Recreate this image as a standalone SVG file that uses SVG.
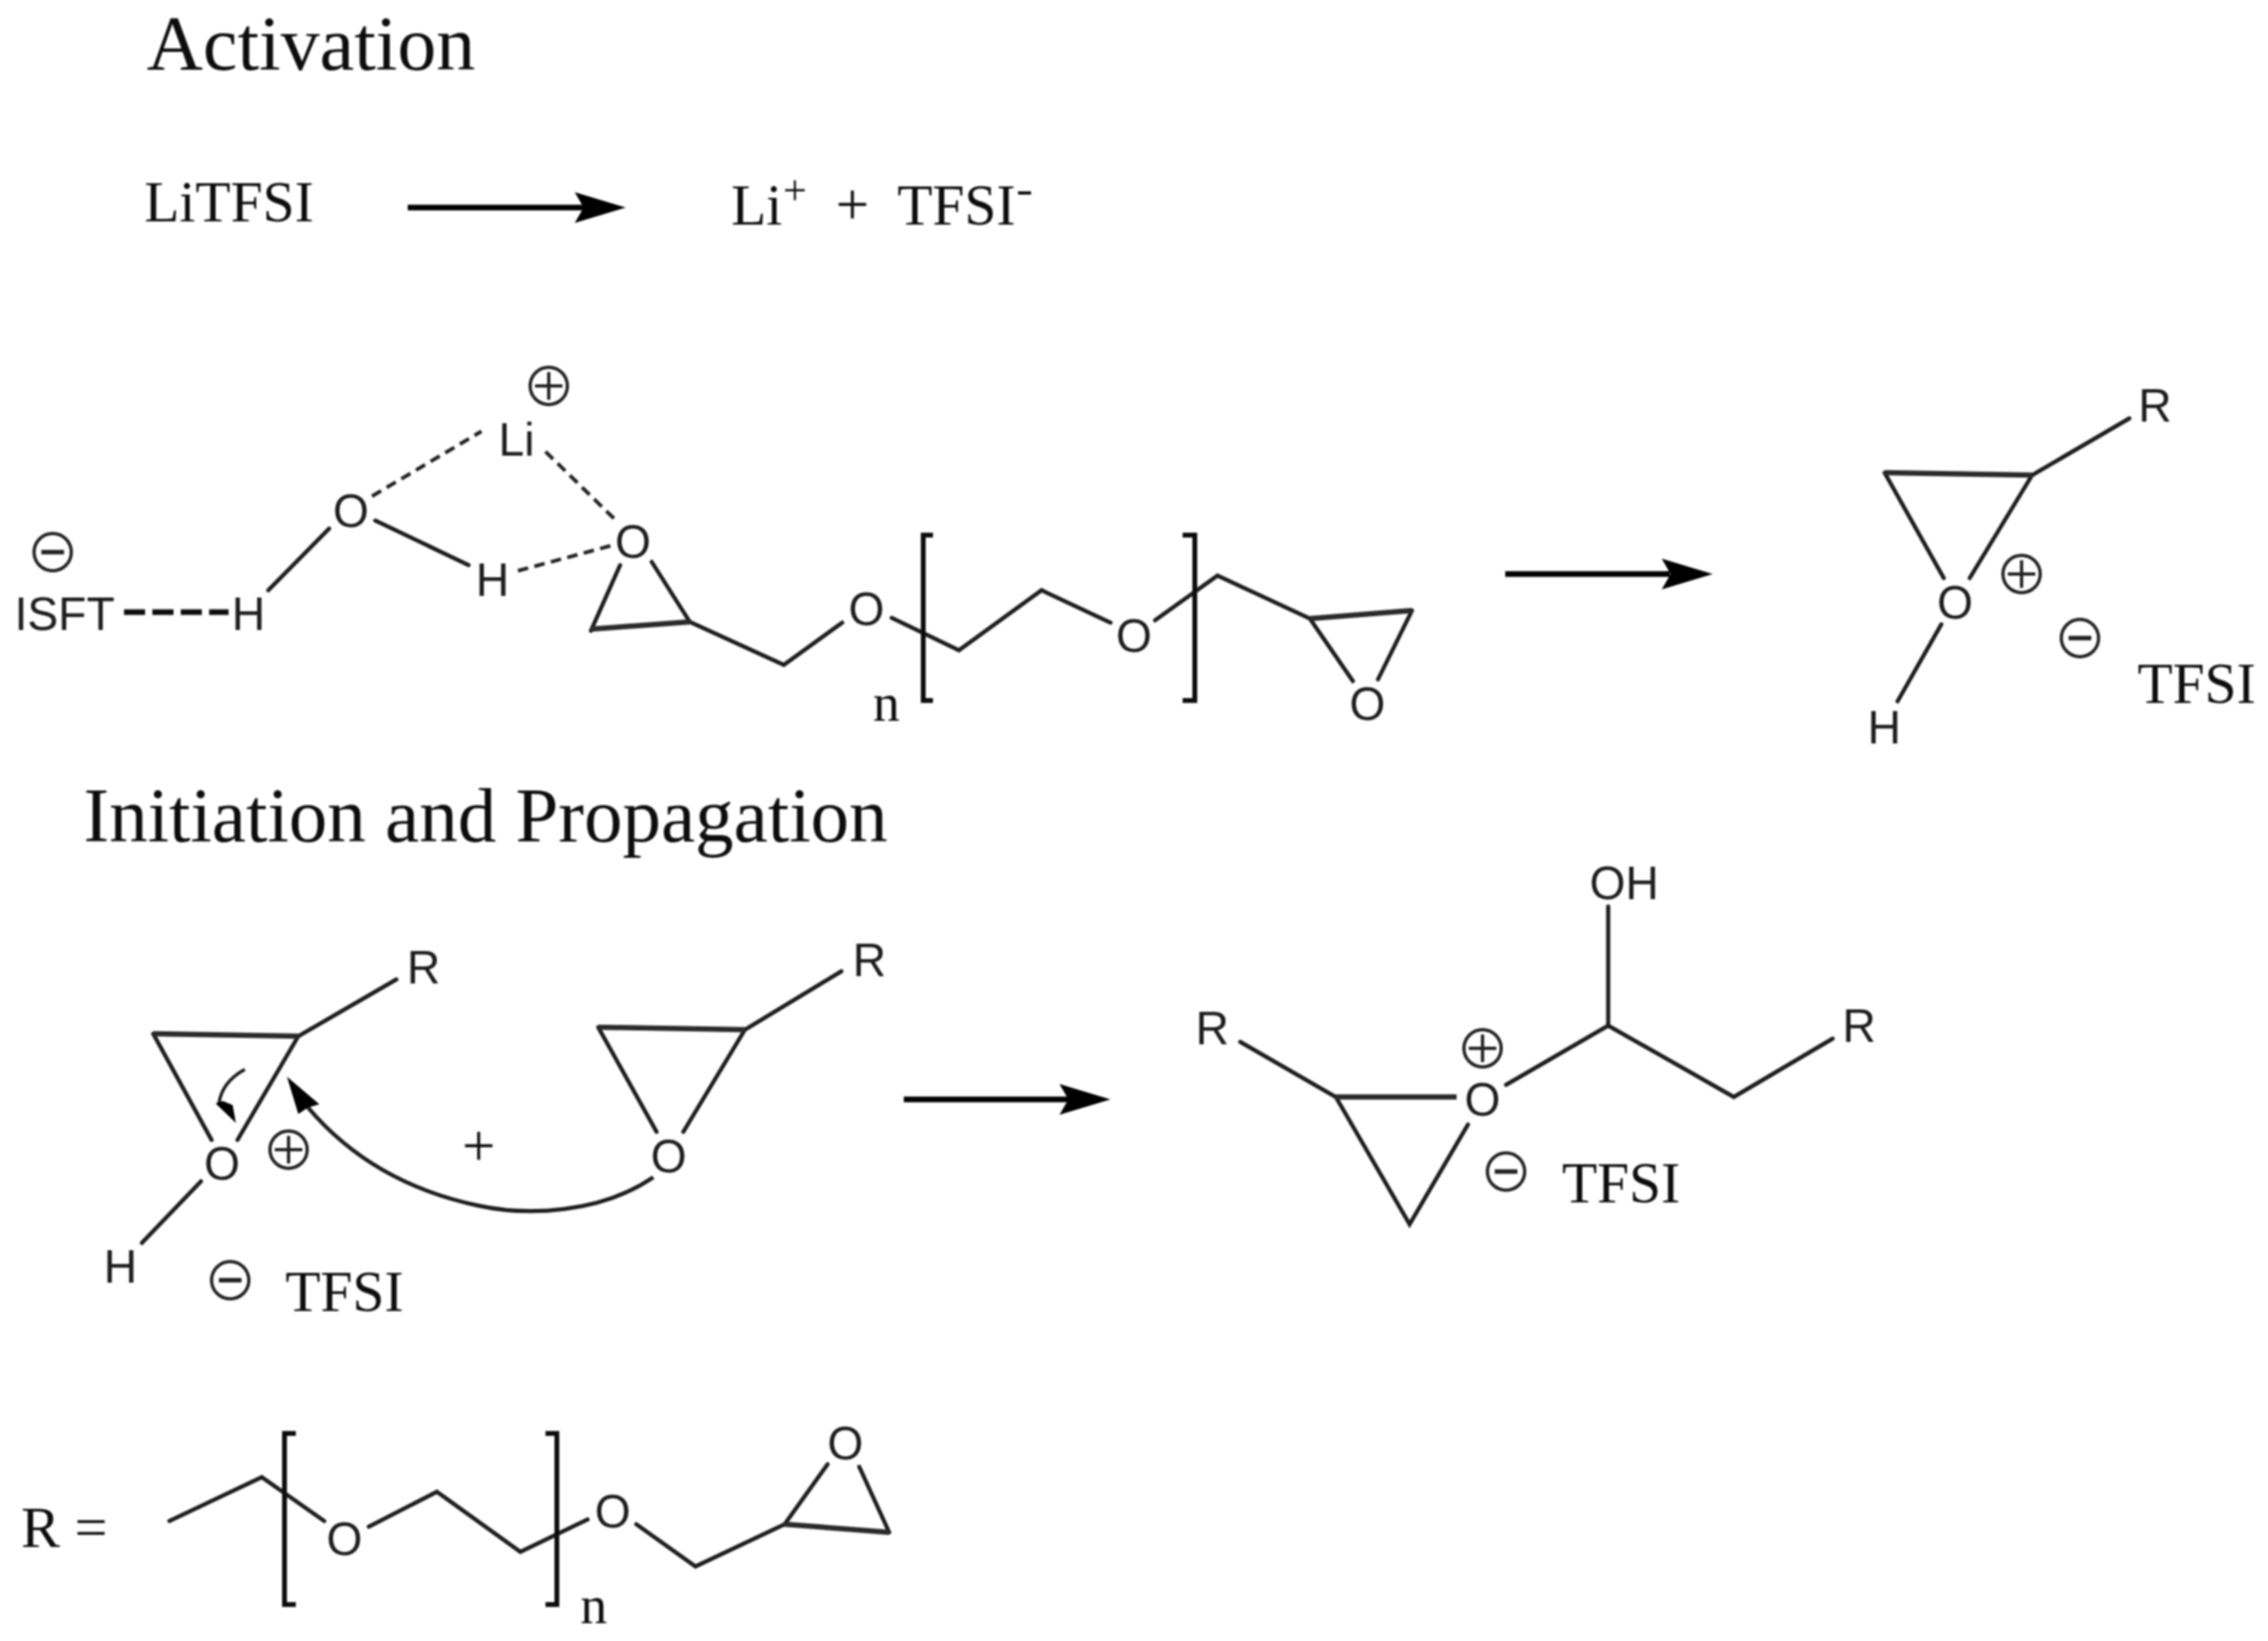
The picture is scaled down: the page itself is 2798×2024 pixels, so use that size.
<svg xmlns="http://www.w3.org/2000/svg" width="2798" height="2024" viewBox="0 0 2798 2024">
<style>
svg > g{filter:url(#soft)}
.t{font-family:"Liberation Serif","Times New Roman",serif;fill:#111}
.h{font-size:95px}
.m{font-size:71px}
.a{font-family:"Liberation Sans",Arial,sans-serif;font-size:57px;fill:#1a1a1a}
.c{text-anchor:middle}
.b{fill:none;stroke:#1a1a1a;stroke-width:5;stroke-linecap:round;stroke-linejoin:miter}
.w{fill:none;stroke:#2a2a2a;stroke-width:6.5;stroke-linecap:butt}
.br{fill:none;stroke:#111;stroke-width:6;stroke-linejoin:miter}
.d{fill:none;stroke:#222;stroke-width:4.5;stroke-dasharray:13 8}
.dk{fill:none;stroke:#111;stroke-width:7;stroke-dasharray:26 9}
.arr{fill:none;stroke:#000;stroke-width:7}
.hd{fill:#000}
.ion{fill:none;stroke:#222;stroke-width:4}
</style>
<defs>
<filter id="soft" x="-5%" y="-5%" width="110%" height="110%"><feGaussianBlur stdDeviation="0.8"/></filter>
<g id="plus"><circle r="23" class="ion"/><path d="M-17 0H17M0-17V17" class="ion"/></g>
<g id="minus"><circle r="23" class="ion"/><path d="M-14 0H14" class="ion" style="stroke-width:5.5"/></g>
<path id="head" d="M0 0L-63-19L-52 0L-63 19Z" class="hd"/>
</defs>
<rect width="2798" height="2024" fill="#fff"/>

<g id="titles">
<text class="t h" x="181" y="86" style="font-size:96px">Activation</text>
<text class="t h" x="103" y="1038">Initiation and Propagation</text>
</g>

<g id="litfsi"><text class="t m" x="178" y="273">LiTFSI</text></g>
<g id="ions">
<text class="t m" x="902" y="277">Li</text>
<text class="t" style="font-size:52px" x="966" y="252">+</text>
<text class="t m" x="1031" y="277" style="font-size:73px">+</text>
<text class="t m" x="1107" y="277">TFSI</text>
<rect x="1256" y="236" width="16" height="4" fill="#111"/>
</g>

<g id="complex">
<use href="#minus" x="65" y="681"/>
<text class="a" x="18" y="777">ISFT</text>
<text class="a" x="286" y="777">H</text>
<text class="a c" x="433" y="650">O</text>
<text class="a" x="615" y="562">Li</text>
<use href="#plus" x="677" y="476"/>
<text class="a" x="587" y="735">H</text>
<text class="a c" x="781" y="688">O</text>
<text class="a c" x="1069" y="771">O</text>
<text class="a c" x="1399" y="804">O</text>
<text class="a c" x="1687" y="888">O</text>
<text class="t" style="font-size:66px" x="1077" y="889">n</text>
<path class="dk" d="M153 755H282"/>
<path class="d" d="M459 612L594 532M673 557L761 643M639 704L754 673"/>
<path class="b" d="M406 652L331 728M463 642L578 697"/>
<path class="b" d="M765 697L729 778M804 693L851 767L967 820L1039 768M1100 762L1183 802L1285 728L1370 768M1425 765L1502 710L1616 763L1669 840M1742 753L1700 838"/>
<path class="w" d="M729 776L851 767M1616 763L1742 753"/>
<path class="br" d="M1151 660H1139V864H1151M1459 660H1474V864H1459"/>
</g>

<g id="oxonium-1">
<text class="a" x="2638" y="520">R</text>
<text class="a c" x="2412" y="763">O</text>
<use href="#plus" x="2494" y="708"/>
<use href="#minus" x="2566" y="787"/>
<text class="a" x="2304" y="917">H</text>
<text class="t m" x="2637" y="867">TFSI</text>
<path class="b" d="M2627 516L2507 586L2430 713M2325 583L2398 713M2395 770L2341 865"/>
<path class="w" d="M2325 583L2507 586"/>
</g>

<g id="oxonium-2">
<text class="a" x="502" y="1213">R</text>
<text class="a c" x="274" y="1455">O</text>
<use href="#plus" x="356" y="1418"/>
<use href="#minus" x="284" y="1579"/>
<text class="a" x="128" y="1582">H</text>
<text class="t m" x="352" y="1617">TFSI</text>
<path class="b" d="M489 1208L368 1278L293 1406M189 1275L261 1406M248 1457L175 1533"/>
<path class="w" d="M189 1275L368 1278"/>
</g>

<g id="plus-sign"><text class="t m" x="570" y="1438" style="font-size:73px">+</text></g>

<g id="epoxide">
<text class="a" x="1052" y="1204">R</text>
<text class="a c" x="825" y="1446">O</text>
<path class="b" d="M1038 1198L919 1270L843 1396M738 1267L810 1396"/>
<path class="w" d="M738 1267L919 1270"/>
</g>

<g id="product">
<text class="a" x="1961" y="1109">OH</text>
<text class="a" x="2273" y="1285">R</text>
<text class="a" x="1475" y="1288">R</text>
<use href="#plus" x="1829" y="1293"/>
<text class="a c" x="1829" y="1376">O</text>
<use href="#minus" x="1858" y="1445"/>
<text class="t m" x="1927" y="1483">TFSI</text>
<path class="b" d="M1984 1118V1265L1858 1338M1984 1265L2139 1353L2261 1281M1530 1285L1648 1353L1739 1510L1811 1387"/>
<path class="w" d="M1648 1353H1797"/>
</g>

<g id="r-definition">
<text class="t" style="font-size:72px" x="26" y="1908">R =</text>
<text class="a c" x="425" y="1918">O</text>
<text class="a c" x="756" y="1884">O</text>
<text class="a c" x="1043" y="1800">O</text>
<text class="t" style="font-size:66px" x="716" y="2002">n</text>
<path class="b" d="M209 1876L323 1822L400 1876M455 1883L539 1840L642 1914L725 1874M785 1880L858 1932L968 1880L1021 1806M1060 1809L1097 1890"/>
<path class="w" d="M968 1880L1097 1890"/>
<path class="br" d="M365 1768H351V1979H365M673 1768H687V1979H673"/>
</g>

<g id="connectors">
<path class="arr" d="M503 256H720"/><use href="#head" x="772" y="256"/>
<path class="arr" d="M1857 708H2060"/><use href="#head" x="2113" y="708"/>
<path class="arr" d="M1115 1356H1320"/><use href="#head" x="1370" y="1356"/>
<path d="M806 1452C740 1497 650 1500 590 1487C500 1468 430 1425 380 1366" fill="none" stroke="#1a1a1a" stroke-width="5"/>
<path class="hd" d="M354 1328L394 1362L380 1366L368 1374Z"/>
<path d="M302 1319C282 1330 272 1345 270 1362" fill="none" stroke="#1a1a1a" stroke-width="4"/>
<path class="hd" d="M291 1385L266 1361L275 1358L287 1363Z"/>
</g>
</svg>
